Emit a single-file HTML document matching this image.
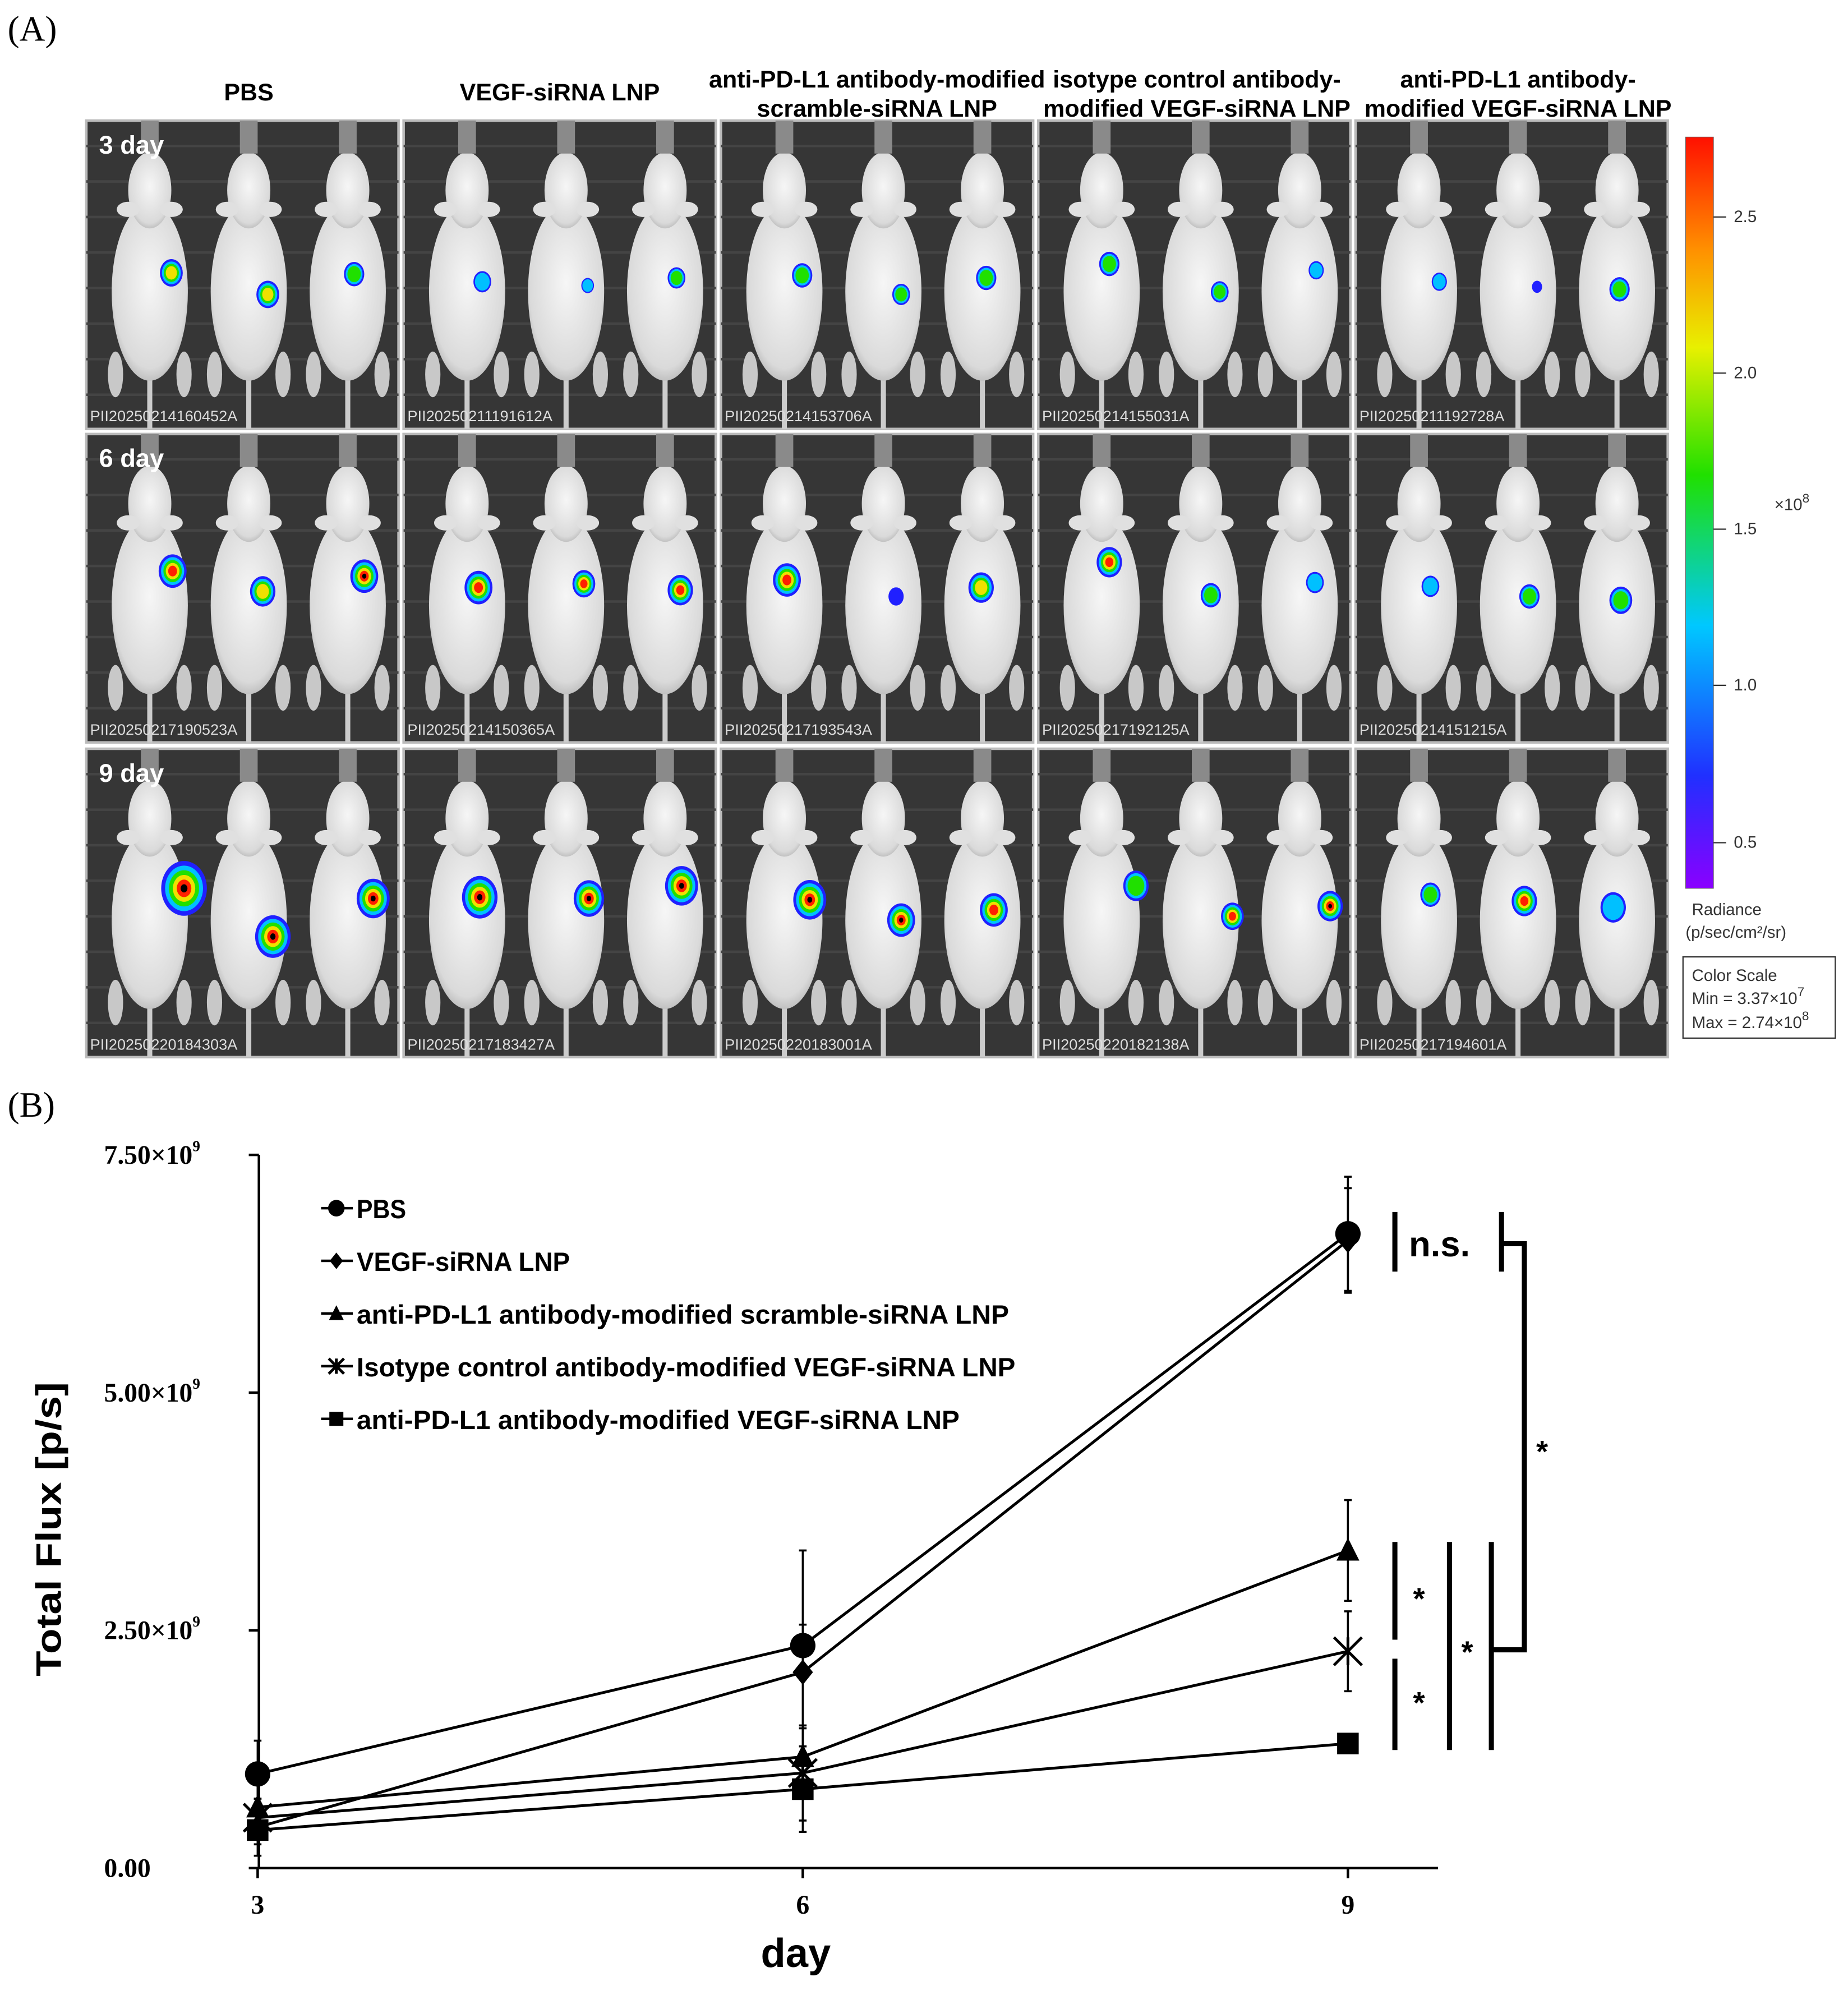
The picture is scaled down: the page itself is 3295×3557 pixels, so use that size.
<!DOCTYPE html>
<html><head><meta charset="utf-8"><style>
html,body{margin:0;padding:0;background:#fff}
svg{display:block}
text{font-family:"Liberation Sans",sans-serif}
.serif{font-family:"Liberation Serif",serif}
</style></head>
<body>
<svg id="fig" width="3295" height="3557" viewBox="0 0 1456 1572" preserveAspectRatio="none" xmlns="http://www.w3.org/2000/svg">
<defs>
<linearGradient id="cbar" x1="0" y1="1" x2="0" y2="0">
<stop offset="0" stop-color="#8a00ff"/><stop offset="0.15" stop-color="#2030ff"/><stop offset="0.35" stop-color="#00c8ff"/>
<stop offset="0.55" stop-color="#20e000"/><stop offset="0.72" stop-color="#e8f000"/><stop offset="0.85" stop-color="#ff9000"/><stop offset="1" stop-color="#ff1000"/>
</linearGradient>
<radialGradient id="mouse" cx="0.5" cy="0.45" r="0.6"><stop offset="0" stop-color="#f6f6f6"/><stop offset="0.8" stop-color="#dadada"/><stop offset="1" stop-color="#b0b0b0"/></radialGradient>
</defs>
<text class="serif" x="6" y="32" font-size="28">(A)</text>
<g id="photos"></g>
<g id="cb">
<rect x="1328" y="108" width="22" height="592" fill="url(#cbar)" stroke="#666" stroke-width="0.5"/>
<text x="1398" y="402" font-size="13" fill="#333">×10<tspan font-size="10" dy="-6">8</tspan></text>
<text x="1333" y="721" font-size="13" fill="#333">Radiance</text>
<text x="1328" y="739" font-size="13" fill="#333">(p/sec/cm²/sr)</text>
<rect x="1326" y="754" width="120" height="64" fill="#fff" stroke="#333" stroke-width="1"/>
<text x="1333" y="773" font-size="13" fill="#333">Color Scale</text>
<text x="1333" y="791" font-size="13" fill="#333">Min = 3.37×10<tspan font-size="10" dy="-6">7</tspan></text>
<text x="1333" y="810" font-size="13" fill="#333">Max = 2.74×10<tspan font-size="10" dy="-6">8</tspan></text>
</g>
<text class="serif" x="6" y="880" font-size="28">(B)</text>
<g id="chart"></g>
</svg>
<script>
// ---- chart data ----
const days = [3, 6, 9];
const yTicks = [0, 2.5, 5.0, 7.5];
const yTickLabels = ["0.00", "2.50×10", "5.00×10", "7.50×10"];
const seriesNames = ["PBS","VEGF-siRNA LNP","anti-PD-L1 antibody-modified scramble-siRNA LNP","Isotype control antibody-modified VEGF-siRNA LNP","anti-PD-L1 antibody-modified VEGF-siRNA LNP"];
const pbsVals = [0.99, 2.34, 6.67];
const vegfVals = [0.43, 2.06, 6.60];
const scrVals = [0.64, 1.17, 3.34];
const isoVals = [0.53, 1.00, 2.28];
const pdVals = [0.40, 0.83, 1.31];
const pbsErr = [0.35, 0.22, 0.60];
const vegfErr = [0.30, 1.28, 0.55];
const scrErr = [0.25, 0.30, 0.53];
const isoErr = [0.20, 0.50, 0.42];
const pdErr = [0.15, 0.45, 0.05];
const markers = ["circle","diamond","triangle","star","square"];

const NS="http://www.w3.org/2000/svg";
function el(tag, attrs, parent){const e=document.createElementNS(NS,tag);for(const k in attrs)e.setAttribute(k,attrs[k]);parent.appendChild(e);return e;}

// ---- photo panels ----
const photos=document.getElementById('photos');
const colX=[68,318,568,818,1068], rowY=[95,342,590], pw=246, ph=243;
const ids=[["PII20250214160452A","PII20250211191612A","PII20250214153706A","PII20250214155031A","PII20250211192728A"],
["PII20250217190523A","PII20250214150365A","PII20250217193543A","PII20250217192125A","PII20250214151215A"],
["PII20250220184303A","PII20250217183427A","PII20250220183001A","PII20250220182138A","PII20250217194601A"]];
const blobs=[
[[[135,215,9,3],[211,232,9,3],[279,216,8,2]],[[380,222,7,1],[463,225,5,1],[533,219,7,2]],[[632,217,8,2],[710,232,7,2],[777,219,8,2]],[[874,208,8,2],[961,230,7,2],[1037,213,6,1]],[[1134,222,6,1],[1211,226,4,0],[1276,228,8,2]]],
[[[136,450,11,4],[207,466,10,3],[287,454,11,5]],[[377,463,11,4],[460,460,9,4],[536,465,10,4]],[[620,457,11,4],[706,470,6,0],[773,463,10,3]],[[874,443,10,4],[954,469,8,2],[1036,459,7,1]],[[1127,462,7,1],[1205,470,8,2],[1277,473,9,2]]],
[[[145,700,18,5],[215,738,14,5],[294,708,13,5]],[[378,707,14,5],[464,708,12,5],[537,698,13,5]],[[638,709,13,5],[710,725,11,5],[783,717,11,4]],[[895,698,10,2],[971,722,9,4],[1048,714,10,5]],[[1127,705,8,2],[1201,710,10,4],[1271,715,10,1]]]];
const ring=["#2020ff","#00c0ff","#20e000","#f0e000","#ff2000"];
const heads=["PBS","VEGF-siRNA LNP",["anti-PD-L1 antibody-modified","scramble-siRNA LNP"],["isotype control antibody-","modified VEGF-siRNA LNP"],["anti-PD-L1 antibody-","modified VEGF-siRNA LNP"]];
heads.forEach((h,c)=>{
  const cx=[196,441,691,943,1196][c];
  const lines=Array.isArray(h)?h:[h];
  lines.forEach((ln,i)=>{const t=el('text',{x:cx,y:lines.length===1?79:(69+i*23),'text-anchor':'middle','font-size':'19','font-weight':'bold'},photos);
    
    
    t.textContent=ln;});
});
for(let r=0;r<3;r++)for(let c=0;c<5;c++){
  const x=colX[c],y=rowY[r];
  const g=el('g',{},photos);
  
  
  el('rect',{x,y,width:pw,height:ph,fill:'#363636',stroke:'#bbb','stroke-width':2},g);
  for(let k=0;k<8;k++)el('line',{x1:x,x2:x+pw,y1:y+20+k*28,y2:y+20+k*28,stroke:'#444','stroke-width':2},g);
  blobs[r][c].forEach((b,m)=>{
    const mx=x+45+m*78;
    el('line',{x1:mx+5,y1:y+180,x2:mx+5,y2:y+ph,stroke:'#ccc','stroke-width':4},g);
    el('ellipse',{cx:mx-22,cy:y+200,rx:6,ry:18,fill:'#c8c8c8'},g);
    el('ellipse',{cx:mx+32,cy:y+200,rx:6,ry:18,fill:'#c8c8c8'},g);
    el('ellipse',{cx:mx+5,cy:y+135,rx:30,ry:70,fill:'url(#mouse)'},g);
    el('ellipse',{cx:mx+5,cy:y+55,rx:17,ry:30,fill:'url(#mouse)'},g);
    el('ellipse',{cx:mx-12,cy:y+70,rx:9,ry:6,fill:'#e0e0e0'},g);
    el('ellipse',{cx:mx+22,cy:y+70,rx:9,ry:6,fill:'#e0e0e0'},g);
    el('rect',{x:mx-2,y:y,width:14,height:26,fill:'#8a8a8a'},g);
    const n=b[3]+1;
    for(let i=0;i<n;i++){el('ellipse',{cx:b[0],cy:b[1],rx:b[2]*(1-i*0.17),ry:b[2]*1.2*(1-i*0.17),fill:ring[i]},g);}
  });
  const t=el('text',{x:x+3,y:y+ph-6,'font-size':'12',fill:'#ddd'},g);t.textContent=ids[r][c];
  if(c===0){const d=el('text',{x:x+10,y:y+26,'font-size':'20','font-weight':'bold',fill:'#fff'},g);
    
    
    d.textContent=(3+r*3)+' day';}
}
const cb=document.getElementById('cb');
[[0.5,656],[1.0,532],[1.5,409],[2.0,286],[2.5,163]].forEach(([v,yy])=>{
  el('line',{x1:1350,x2:1360,y1:yy+8,y2:yy+8,stroke:'#333'},cb);
  const t=el('text',{x:1366,y:yy+12,'font-size':'13',fill:'#333'},cb);t.textContent=v.toFixed(1);
});

// ---- chart ----
const ch=document.getElementById('chart');
const X0=204, Y0=1472, YTOP=910;
const xScale=d=>203+(d-3)*(1062-203)/6;
const yScale=v=>Y0-(v/7.5)*(Y0-YTOP);
el('line',{x1:X0,x2:X0,y1:YTOP,y2:Y0,stroke:'#000','stroke-width':2},ch);
el('line',{x1:X0,x2:1133,y1:Y0,y2:Y0,stroke:'#000','stroke-width':2},ch);
yTicks.forEach((v,i)=>{
  const yy=yScale(v);
  el('line',{x1:X0-8,x2:X0,y1:yy,y2:yy,stroke:'#000','stroke-width':2},ch);
  const t=el('text',{x:i===0?82:82,y:yy+7,'font-size':'21','font-weight':'bold',class:'serif'},ch);
  
  
  t.textContent=yTickLabels[i];
  if(i>0){const s=el('tspan',{'font-size':'12',dy:'-10'},t);s.textContent='9';}
});
days.forEach(d=>{
  const xx=xScale(d);
  el('line',{x1:xx,x2:xx,y1:Y0,y2:Y0+8,stroke:'#000','stroke-width':2},ch);
  const t=el('text',{x:xx,y:Y0+36,'text-anchor':'middle','font-size':'21','font-weight':'bold',class:'serif'},ch);
  
  
  t.textContent=d;
});
const xt=el('text',{x:627,y:1550,'text-anchor':'middle','font-size':'32','font-weight':'bold'},ch);


xt.textContent='day';
const yt=el('text',{x:0,y:0,transform:'translate(48,1205) rotate(-90)','text-anchor':'middle','font-size':'28','font-weight':'bold','textLength':'232','lengthAdjust':'spacingAndGlyphs'},ch);


yt.textContent='Total Flux [p/s]';

function marker(type,x,y,s,parent){
  if(type==='circle')return el('circle',{cx:x,cy:y,r:s,fill:'#000'},parent);
  if(type==='diamond')return el('polygon',{points:`${x},${y-s} ${x+s*0.8},${y} ${x},${y+s} ${x-s*0.8},${y}`,fill:'#000'},parent);
  if(type==='triangle')return el('polygon',{points:`${x},${y-s} ${x+s*0.9},${y+s*0.8} ${x-s*0.9},${y+s*0.8}`,fill:'#000'},parent);
  if(type==='square')return el('rect',{x:x-s*0.85,y:y-s*0.85,width:s*1.7,height:s*1.7,fill:'#000'},parent);
  const g=el('g',{stroke:'#000','stroke-width':2.2},parent);
  el('line',{x1:x-s,x2:x+s,y1:y-s,y2:y+s},g);el('line',{x1:x-s,x2:x+s,y1:y+s,y2:y-s},g);el('line',{x1:x,x2:x,y1:y-s,y2:y+s},g);
  return g;
}
const allVals=[pbsVals,vegfVals,scrVals,isoVals,pdVals];
const allErr=[pbsErr,vegfErr,scrErr,isoErr,pdErr];
const seriesKeys=['pbs','vegf','scramble','isotype','pdl1-vegf'];
allVals.forEach((vals,si)=>{
  const g=el('g',{},ch);
  
  
  const pts=vals.map((v,i)=>xScale(days[i])+','+yScale(v)).join(' ');
  el('polyline',{points:pts,fill:'none',stroke:'#000','stroke-width':2.2},g);
  vals.forEach((v,i)=>{
    const xx=xScale(days[i]),e=allErr[si][i];
    el('line',{x1:xx,x2:xx,y1:yScale(v+e),y2:yScale(v-e),stroke:'#000','stroke-width':1.6},g);
    el('line',{x1:xx-3,x2:xx+3,y1:yScale(v+e),y2:yScale(v+e),stroke:'#000','stroke-width':1.6},g);
    el('line',{x1:xx-3,x2:xx+3,y1:yScale(v-e),y2:yScale(v-e),stroke:'#000','stroke-width':1.6},g);
    const m=marker(markers[si],xx,yScale(v),si===3?11:10,g);
    
    
  });
});
// legend
const legLens=[39,168,514,519,475];
seriesNames.forEach((n,i)=>{
  const yy=952+i*41.5;
  const g=el('g',{},ch);
  
  
  el('line',{x1:253,x2:278,y1:yy,y2:yy,stroke:'#000','stroke-width':2},g);
  marker(markers[i],265,yy,i===3?6:6.5,g);
  const t=el('text',{x:281,y:yy+8,'font-size':'21','font-weight':'bold',textLength:legLens[i],lengthAdjust:'spacingAndGlyphs'},g);
  t.textContent=n;
});
// significance brackets
const sig=el('g',{stroke:'#000','stroke-width':4,fill:'none'},ch);


el('line',{x1:1099,x2:1099,y1:955,y2:1002},sig);
el('polyline',{points:'1183,955 1183,1002'},sig);
el('polyline',{points:'1183,980 1201,980 1201,1300 1175,1300'},sig);
el('line',{x1:1099,x2:1099,y1:1215,y2:1292},sig);
el('line',{x1:1099,x2:1099,y1:1307,y2:1379},sig);
el('line',{x1:1142,x2:1142,y1:1215,y2:1379},sig);
el('line',{x1:1175,x2:1175,y1:1215,y2:1379},sig);
[[1110,990,'n.s.',28],[1215,1152,'*',24],[1118,1268,'*',24],[1118,1350,'*',24],[1156,1310,'*',24]].forEach(([x,y,s,f])=>{
  const t=el('text',{x,y,'font-size':f,'font-weight':'bold',fill:'#000',stroke:'none','text-anchor':s==='n.s.'?'start':'middle'},ch);
  
  
  t.textContent=s;
});
</script>
</body></html>
